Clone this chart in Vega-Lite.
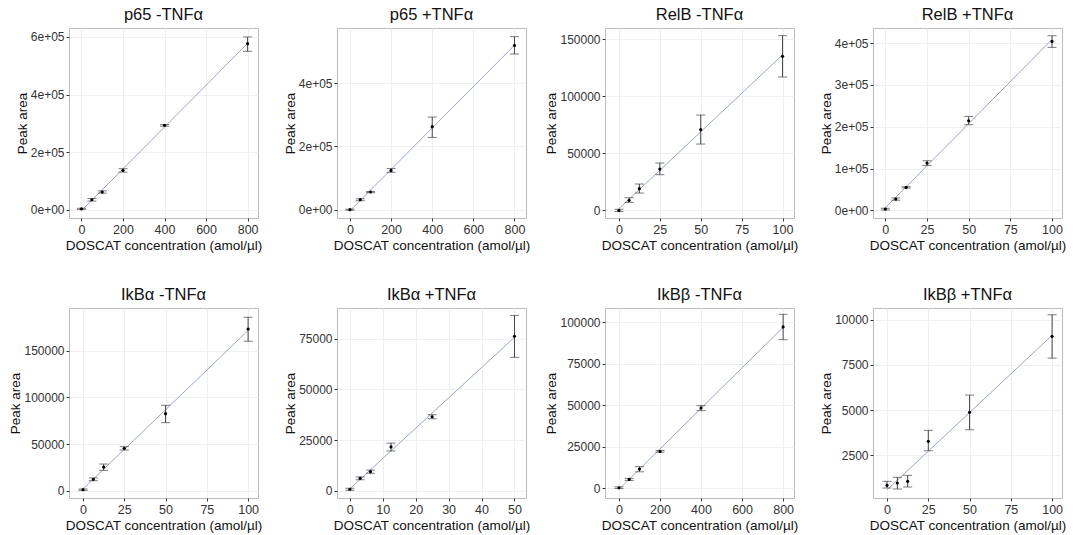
{
  "$schema": "https://vega.github.io/schema/vega-lite/v6.json",
  "background": "white",
  "padding": {"left": 8, "top": 6, "right": 2, "bottom": 5},
  "columns": 4,
  "bounds": "flush",
  "spacing": {"row": 90, "column": 79},
  "data": {"values": [
    {"p": 1, "x": 0, "y": 3000, "lo": 1000, "hi": 5000},
    {"p": 1, "x": 50, "y": 34700, "lo": 30000, "hi": 39000},
    {"p": 1, "x": 100, "y": 61400, "lo": 57500, "hi": 65500},
    {"p": 1, "x": 200, "y": 136600, "lo": 130500, "hi": 142500},
    {"p": 1, "x": 400, "y": 293000, "lo": 290000, "hi": 296000},
    {"p": 1, "x": 800, "y": 576700, "lo": 550000, "hi": 600000},
    {"p": 2, "x": 0, "y": 0, "lo": -1500, "hi": 1500},
    {"p": 2, "x": 50, "y": 31600, "lo": 28500, "hi": 34500},
    {"p": 2, "x": 100, "y": 55800, "lo": 54000, "hi": 57600},
    {"p": 2, "x": 200, "y": 124100, "lo": 118000, "hi": 130000},
    {"p": 2, "x": 400, "y": 262100, "lo": 228200, "hi": 292600},
    {"p": 2, "x": 800, "y": 518800, "lo": 491600, "hi": 546300},
    {"p": 3, "x": 0, "y": 0, "lo": -1000, "hi": 1000},
    {"p": 3, "x": 6.25, "y": 8760, "lo": 7000, "hi": 11100},
    {"p": 3, "x": 12.5, "y": 19000, "lo": 15200, "hi": 23100},
    {"p": 3, "x": 25, "y": 36200, "lo": 31250, "hi": 41500},
    {"p": 3, "x": 50, "y": 70700, "lo": 58100, "hi": 83500},
    {"p": 3, "x": 100, "y": 134900, "lo": 116800, "hi": 153000},
    {"p": 4, "x": 0, "y": 3300, "lo": 1300, "hi": 5300},
    {"p": 4, "x": 6.25, "y": 27200, "lo": 24500, "hi": 30000},
    {"p": 4, "x": 12.5, "y": 55000, "lo": 53500, "hi": 56500},
    {"p": 4, "x": 25, "y": 113300, "lo": 107600, "hi": 118800},
    {"p": 4, "x": 50, "y": 214400, "lo": 204900, "hi": 224700},
    {"p": 4, "x": 100, "y": 404000, "lo": 389700, "hi": 417600},
    {"p": 5, "x": 0, "y": 1100, "lo": 400, "hi": 1800},
    {"p": 5, "x": 6.25, "y": 12200, "lo": 10700, "hi": 13700},
    {"p": 5, "x": 12.5, "y": 25400, "lo": 21800, "hi": 28600},
    {"p": 5, "x": 25, "y": 45400, "lo": 43600, "hi": 47200},
    {"p": 5, "x": 50, "y": 82500, "lo": 72900, "hi": 91500},
    {"p": 5, "x": 100, "y": 173200, "lo": 160100, "hi": 185800},
    {"p": 6, "x": 0, "y": 700, "lo": 200, "hi": 1200},
    {"p": 6, "x": 3.125, "y": 6100, "lo": 5400, "hi": 6800},
    {"p": 6, "x": 6.25, "y": 9400, "lo": 8600, "hi": 10200},
    {"p": 6, "x": 12.5, "y": 21600, "lo": 19600, "hi": 23500},
    {"p": 6, "x": 25, "y": 36500, "lo": 35500, "hi": 37500},
    {"p": 6, "x": 50, "y": 76200, "lo": 65800, "hi": 86500},
    {"p": 7, "x": 0, "y": 200, "lo": -300, "hi": 700},
    {"p": 7, "x": 50, "y": 5200, "lo": 4600, "hi": 5800},
    {"p": 7, "x": 100, "y": 11500, "lo": 9800, "hi": 12900},
    {"p": 7, "x": 200, "y": 22100, "lo": 21600, "hi": 22600},
    {"p": 7, "x": 400, "y": 48300, "lo": 46700, "hi": 49700},
    {"p": 7, "x": 800, "y": 97200, "lo": 89500, "hi": 104800},
    {"p": 8, "x": 0, "y": 842, "lo": 692, "hi": 1063},
    {"p": 8, "x": 6.25, "y": 969, "lo": 637, "hi": 1284},
    {"p": 8, "x": 12.5, "y": 1063, "lo": 748, "hi": 1394},
    {"p": 8, "x": 25, "y": 3274, "lo": 2754, "hi": 3882},
    {"p": 8, "x": 50, "y": 4877, "lo": 3915, "hi": 5833},
    {"p": 8, "x": 100, "y": 9082, "lo": 7878, "hi": 10276}
  ]},
  "concat": [
    {
      "title": "p65 -TNFα", "width": 189, "height": 190,
      "transform": [{"filter": "datum.p == 1"}],
      "encoding": {"x": {"field": "x", "type": "quantitative", "title": "DOSCAT concentration (amol/µl)", "scale": {"domain": [-60, 850], "nice": false, "zero": false}, "axis": {"values": [0, 200, 400, 600, 800]}}},
      "layer": [
        {"transform": [{"regression": "y", "on": "x"}], "mark": {"type": "line", "color": "#98a6c9", "strokeWidth": 1}, "encoding": {"y": {"field": "y", "type": "quantitative", "title": "Peak area", "scale": {"domain": [-28800, 631000], "nice": false, "zero": false}, "axis": {"values": [0, 200000, 400000, 600000], "labelExpr": "datum.value == 0 ? '0e+00' : format(datum.value/100000, 'd') + 'e+05'"}}}},
        {"mark": {"type": "rule", "color": "#444"}, "encoding": {"y": {"field": "lo", "type": "quantitative", "title": "Peak area", "scale": {"domain": [-28800, 631000], "nice": false, "zero": false}, "axis": {"values": [0, 200000, 400000, 600000], "labelExpr": "datum.value == 0 ? '0e+00' : format(datum.value/100000, 'd') + 'e+05'"}}, "y2": {"field": "hi"}}},
        {"mark": {"type": "tick", "orient": "horizontal", "size": 9, "thickness": 1, "color": "#444"}, "encoding": {"y": {"field": "lo", "type": "quantitative", "title": "Peak area", "scale": {"domain": [-28800, 631000], "nice": false, "zero": false}, "axis": {"values": [0, 200000, 400000, 600000], "labelExpr": "datum.value == 0 ? '0e+00' : format(datum.value/100000, 'd') + 'e+05'"}}}},
        {"mark": {"type": "tick", "orient": "horizontal", "size": 9, "thickness": 1, "color": "#444"}, "encoding": {"y": {"field": "hi", "type": "quantitative", "title": "Peak area", "scale": {"domain": [-28800, 631000], "nice": false, "zero": false}, "axis": {"values": [0, 200000, 400000, 600000], "labelExpr": "datum.value == 0 ? '0e+00' : format(datum.value/100000, 'd') + 'e+05'"}}}},
        {"mark": {"type": "circle", "size": 10, "color": "black", "opacity": 1}, "encoding": {"y": {"field": "y", "type": "quantitative", "title": "Peak area", "scale": {"domain": [-28800, 631000], "nice": false, "zero": false}, "axis": {"values": [0, 200000, 400000, 600000], "labelExpr": "datum.value == 0 ? '0e+00' : format(datum.value/100000, 'd') + 'e+05'"}}}},
        {"data": {"values": [{"p": 1, "t": "r2 = 0.99"}]}, "mark": {"type": "text", "align": "left", "baseline": "middle", "fontSize": 9.5, "color": "#111"}, "encoding": {"x": {"datum": -8, "type": "quantitative", "title": "DOSCAT concentration (amol/µl)"}, "y": {"datum": 552000, "type": "quantitative", "title": "Peak area"}, "text": {"field": "t"}}}
      ]
    },
    {
      "title": "p65 +TNFα", "width": 189, "height": 190,
      "transform": [{"filter": "datum.p == 2"}],
      "encoding": {"x": {"field": "x", "type": "quantitative", "title": "DOSCAT concentration (amol/µl)", "scale": {"domain": [-63, 856], "nice": false, "zero": false}, "axis": {"values": [0, 200, 400, 600, 800]}}},
      "layer": [
        {"transform": [{"regression": "y", "on": "x"}], "mark": {"type": "line", "color": "#98a6c9", "strokeWidth": 1}, "encoding": {"y": {"field": "y", "type": "quantitative", "title": "Peak area", "scale": {"domain": [-26200, 573700], "nice": false, "zero": false}, "axis": {"values": [0, 200000, 400000], "labelExpr": "datum.value == 0 ? '0e+00' : format(datum.value/100000, 'd') + 'e+05'"}}}},
        {"mark": {"type": "rule", "color": "#444"}, "encoding": {"y": {"field": "lo", "type": "quantitative", "title": "Peak area", "scale": {"domain": [-26200, 573700], "nice": false, "zero": false}, "axis": {"values": [0, 200000, 400000], "labelExpr": "datum.value == 0 ? '0e+00' : format(datum.value/100000, 'd') + 'e+05'"}}, "y2": {"field": "hi"}}},
        {"mark": {"type": "tick", "orient": "horizontal", "size": 9, "thickness": 1, "color": "#444"}, "encoding": {"y": {"field": "lo", "type": "quantitative", "title": "Peak area", "scale": {"domain": [-26200, 573700], "nice": false, "zero": false}, "axis": {"values": [0, 200000, 400000], "labelExpr": "datum.value == 0 ? '0e+00' : format(datum.value/100000, 'd') + 'e+05'"}}}},
        {"mark": {"type": "tick", "orient": "horizontal", "size": 9, "thickness": 1, "color": "#444"}, "encoding": {"y": {"field": "hi", "type": "quantitative", "title": "Peak area", "scale": {"domain": [-26200, 573700], "nice": false, "zero": false}, "axis": {"values": [0, 200000, 400000], "labelExpr": "datum.value == 0 ? '0e+00' : format(datum.value/100000, 'd') + 'e+05'"}}}},
        {"mark": {"type": "circle", "size": 10, "color": "black", "opacity": 1}, "encoding": {"y": {"field": "y", "type": "quantitative", "title": "Peak area", "scale": {"domain": [-26200, 573700], "nice": false, "zero": false}, "axis": {"values": [0, 200000, 400000], "labelExpr": "datum.value == 0 ? '0e+00' : format(datum.value/100000, 'd') + 'e+05'"}}}},
        {"data": {"values": [{"p": 2, "t": "r2 = 0.99"}]}, "mark": {"type": "text", "align": "left", "baseline": "middle", "fontSize": 9.5, "color": "#111"}, "encoding": {"x": {"datum": -8, "type": "quantitative", "title": "DOSCAT concentration (amol/µl)"}, "y": {"datum": 503000, "type": "quantitative", "title": "Peak area"}, "text": {"field": "t"}}}
      ]
    },
    {
      "title": "RelB -TNFα", "width": 189, "height": 190,
      "transform": [{"filter": "datum.p == 3"}],
      "encoding": {"x": {"field": "x", "type": "quantitative", "title": "DOSCAT concentration (amol/µl)", "scale": {"domain": [-8.5, 107], "nice": false, "zero": false}, "axis": {"values": [0, 25, 50, 75, 100]}}},
      "layer": [
        {"transform": [{"regression": "y", "on": "x"}], "mark": {"type": "line", "color": "#98a6c9", "strokeWidth": 1}, "encoding": {"y": {"field": "y", "type": "quantitative", "title": "Peak area", "scale": {"domain": [-6650, 159700], "nice": false, "zero": false}, "axis": {"values": [0, 50000, 100000, 150000], "format": "d"}}}},
        {"mark": {"type": "rule", "color": "#444"}, "encoding": {"y": {"field": "lo", "type": "quantitative", "title": "Peak area", "scale": {"domain": [-6650, 159700], "nice": false, "zero": false}, "axis": {"values": [0, 50000, 100000, 150000], "format": "d"}}, "y2": {"field": "hi"}}},
        {"mark": {"type": "tick", "orient": "horizontal", "size": 9, "thickness": 1, "color": "#444"}, "encoding": {"y": {"field": "lo", "type": "quantitative", "title": "Peak area", "scale": {"domain": [-6650, 159700], "nice": false, "zero": false}, "axis": {"values": [0, 50000, 100000, 150000], "format": "d"}}}},
        {"mark": {"type": "tick", "orient": "horizontal", "size": 9, "thickness": 1, "color": "#444"}, "encoding": {"y": {"field": "hi", "type": "quantitative", "title": "Peak area", "scale": {"domain": [-6650, 159700], "nice": false, "zero": false}, "axis": {"values": [0, 50000, 100000, 150000], "format": "d"}}}},
        {"mark": {"type": "circle", "size": 10, "color": "black", "opacity": 1}, "encoding": {"y": {"field": "y", "type": "quantitative", "title": "Peak area", "scale": {"domain": [-6650, 159700], "nice": false, "zero": false}, "axis": {"values": [0, 50000, 100000, 150000], "format": "d"}}}},
        {"data": {"values": [{"p": 3, "t": "r2 = 0.99"}]}, "mark": {"type": "text", "align": "left", "baseline": "middle", "fontSize": 9.5, "color": "#111"}, "encoding": {"x": {"datum": -0.4, "type": "quantitative", "title": "DOSCAT concentration (amol/µl)"}, "y": {"datum": 140300, "type": "quantitative", "title": "Peak area"}, "text": {"field": "t"}}}
      ]
    },
    {
      "title": "RelB +TNFα", "width": 189, "height": 190,
      "transform": [{"filter": "datum.p == 4"}],
      "encoding": {"x": {"field": "x", "type": "quantitative", "title": "DOSCAT concentration (amol/µl)", "scale": {"domain": [-7.4, 106], "nice": false, "zero": false}, "axis": {"values": [0, 25, 50, 75, 100]}}},
      "layer": [
        {"transform": [{"regression": "y", "on": "x"}], "mark": {"type": "line", "color": "#98a6c9", "strokeWidth": 1}, "encoding": {"y": {"field": "y", "type": "quantitative", "title": "Peak area", "scale": {"domain": [-18000, 436000], "nice": false, "zero": false}, "axis": {"values": [0, 100000, 200000, 300000, 400000], "labelExpr": "datum.value == 0 ? '0e+00' : format(datum.value/100000, 'd') + 'e+05'"}}}},
        {"mark": {"type": "rule", "color": "#444"}, "encoding": {"y": {"field": "lo", "type": "quantitative", "title": "Peak area", "scale": {"domain": [-18000, 436000], "nice": false, "zero": false}, "axis": {"values": [0, 100000, 200000, 300000, 400000], "labelExpr": "datum.value == 0 ? '0e+00' : format(datum.value/100000, 'd') + 'e+05'"}}, "y2": {"field": "hi"}}},
        {"mark": {"type": "tick", "orient": "horizontal", "size": 9, "thickness": 1, "color": "#444"}, "encoding": {"y": {"field": "lo", "type": "quantitative", "title": "Peak area", "scale": {"domain": [-18000, 436000], "nice": false, "zero": false}, "axis": {"values": [0, 100000, 200000, 300000, 400000], "labelExpr": "datum.value == 0 ? '0e+00' : format(datum.value/100000, 'd') + 'e+05'"}}}},
        {"mark": {"type": "tick", "orient": "horizontal", "size": 9, "thickness": 1, "color": "#444"}, "encoding": {"y": {"field": "hi", "type": "quantitative", "title": "Peak area", "scale": {"domain": [-18000, 436000], "nice": false, "zero": false}, "axis": {"values": [0, 100000, 200000, 300000, 400000], "labelExpr": "datum.value == 0 ? '0e+00' : format(datum.value/100000, 'd') + 'e+05'"}}}},
        {"mark": {"type": "circle", "size": 10, "color": "black", "opacity": 1}, "encoding": {"y": {"field": "y", "type": "quantitative", "title": "Peak area", "scale": {"domain": [-18000, 436000], "nice": false, "zero": false}, "axis": {"values": [0, 100000, 200000, 300000, 400000], "labelExpr": "datum.value == 0 ? '0e+00' : format(datum.value/100000, 'd') + 'e+05'"}}}},
        {"data": {"values": [{"p": 4, "t": "r2 = 0.99"}]}, "mark": {"type": "text", "align": "left", "baseline": "middle", "fontSize": 9.5, "color": "#111"}, "encoding": {"x": {"datum": -2, "type": "quantitative", "title": "DOSCAT concentration (amol/µl)"}, "y": {"datum": 382500, "type": "quantitative", "title": "Peak area"}, "text": {"field": "t"}}}
      ]
    },
    {
      "title": "IkBα -TNFα", "width": 189, "height": 190,
      "transform": [{"filter": "datum.p == 5"}],
      "encoding": {"x": {"field": "x", "type": "quantitative", "title": "DOSCAT concentration (amol/µl)", "scale": {"domain": [-8.5, 106], "nice": false, "zero": false}, "axis": {"values": [0, 25, 50, 75, 100]}}},
      "layer": [
        {"transform": [{"regression": "y", "on": "x"}], "mark": {"type": "line", "color": "#98a6c9", "strokeWidth": 1}, "encoding": {"y": {"field": "y", "type": "quantitative", "title": "Peak area", "scale": {"domain": [-7800, 195700], "nice": false, "zero": false}, "axis": {"values": [0, 50000, 100000, 150000], "format": "d"}}}},
        {"mark": {"type": "rule", "color": "#444"}, "encoding": {"y": {"field": "lo", "type": "quantitative", "title": "Peak area", "scale": {"domain": [-7800, 195700], "nice": false, "zero": false}, "axis": {"values": [0, 50000, 100000, 150000], "format": "d"}}, "y2": {"field": "hi"}}},
        {"mark": {"type": "tick", "orient": "horizontal", "size": 9, "thickness": 1, "color": "#444"}, "encoding": {"y": {"field": "lo", "type": "quantitative", "title": "Peak area", "scale": {"domain": [-7800, 195700], "nice": false, "zero": false}, "axis": {"values": [0, 50000, 100000, 150000], "format": "d"}}}},
        {"mark": {"type": "tick", "orient": "horizontal", "size": 9, "thickness": 1, "color": "#444"}, "encoding": {"y": {"field": "hi", "type": "quantitative", "title": "Peak area", "scale": {"domain": [-7800, 195700], "nice": false, "zero": false}, "axis": {"values": [0, 50000, 100000, 150000], "format": "d"}}}},
        {"mark": {"type": "circle", "size": 10, "color": "black", "opacity": 1}, "encoding": {"y": {"field": "y", "type": "quantitative", "title": "Peak area", "scale": {"domain": [-7800, 195700], "nice": false, "zero": false}, "axis": {"values": [0, 50000, 100000, 150000], "format": "d"}}}},
        {"data": {"values": [{"p": 5, "t": "r2 = 0.99"}]}, "mark": {"type": "text", "align": "left", "baseline": "middle", "fontSize": 9.5, "color": "#111"}, "encoding": {"x": {"datum": -2, "type": "quantitative", "title": "DOSCAT concentration (amol/µl)"}, "y": {"datum": 171900, "type": "quantitative", "title": "Peak area"}, "text": {"field": "t"}}}
      ]
    },
    {
      "title": "IkBα +TNFα", "width": 189, "height": 190,
      "transform": [{"filter": "datum.p == 6"}],
      "encoding": {"x": {"field": "x", "type": "quantitative", "title": "DOSCAT concentration (amol/µl)", "scale": {"domain": [-3.9, 53.5], "nice": false, "zero": false}, "axis": {"values": [0, 10, 20, 30, 40, 50]}}},
      "layer": [
        {"transform": [{"regression": "y", "on": "x"}], "mark": {"type": "line", "color": "#98a6c9", "strokeWidth": 1}, "encoding": {"y": {"field": "y", "type": "quantitative", "title": "Peak area", "scale": {"domain": [-3600, 90150], "nice": false, "zero": false}, "axis": {"values": [0, 25000, 50000, 75000], "format": "d"}}}},
        {"mark": {"type": "rule", "color": "#444"}, "encoding": {"y": {"field": "lo", "type": "quantitative", "title": "Peak area", "scale": {"domain": [-3600, 90150], "nice": false, "zero": false}, "axis": {"values": [0, 25000, 50000, 75000], "format": "d"}}, "y2": {"field": "hi"}}},
        {"mark": {"type": "tick", "orient": "horizontal", "size": 9, "thickness": 1, "color": "#444"}, "encoding": {"y": {"field": "lo", "type": "quantitative", "title": "Peak area", "scale": {"domain": [-3600, 90150], "nice": false, "zero": false}, "axis": {"values": [0, 25000, 50000, 75000], "format": "d"}}}},
        {"mark": {"type": "tick", "orient": "horizontal", "size": 9, "thickness": 1, "color": "#444"}, "encoding": {"y": {"field": "hi", "type": "quantitative", "title": "Peak area", "scale": {"domain": [-3600, 90150], "nice": false, "zero": false}, "axis": {"values": [0, 25000, 50000, 75000], "format": "d"}}}},
        {"mark": {"type": "circle", "size": 10, "color": "black", "opacity": 1}, "encoding": {"y": {"field": "y", "type": "quantitative", "title": "Peak area", "scale": {"domain": [-3600, 90150], "nice": false, "zero": false}, "axis": {"values": [0, 25000, 50000, 75000], "format": "d"}}}},
        {"data": {"values": [{"p": 6, "t": "r2 = 0.99"}]}, "mark": {"type": "text", "align": "left", "baseline": "middle", "fontSize": 9.5, "color": "#111"}, "encoding": {"x": {"datum": -0.5, "type": "quantitative", "title": "DOSCAT concentration (amol/µl)"}, "y": {"datum": 79100, "type": "quantitative", "title": "Peak area"}, "text": {"field": "t"}}}
      ]
    },
    {
      "title": "IkBβ -TNFα", "width": 189, "height": 190,
      "transform": [{"filter": "datum.p == 7"}],
      "encoding": {"x": {"field": "x", "type": "quantitative", "title": "DOSCAT concentration (amol/µl)", "scale": {"domain": [-68, 853], "nice": false, "zero": false}, "axis": {"values": [0, 200, 400, 600, 800]}}},
      "layer": [
        {"transform": [{"regression": "y", "on": "x"}], "mark": {"type": "line", "color": "#98a6c9", "strokeWidth": 1}, "encoding": {"y": {"field": "y", "type": "quantitative", "title": "Peak area", "scale": {"domain": [-6000, 108600], "nice": false, "zero": false}, "axis": {"values": [0, 25000, 50000, 75000, 100000], "format": "d"}}}},
        {"mark": {"type": "rule", "color": "#444"}, "encoding": {"y": {"field": "lo", "type": "quantitative", "title": "Peak area", "scale": {"domain": [-6000, 108600], "nice": false, "zero": false}, "axis": {"values": [0, 25000, 50000, 75000, 100000], "format": "d"}}, "y2": {"field": "hi"}}},
        {"mark": {"type": "tick", "orient": "horizontal", "size": 9, "thickness": 1, "color": "#444"}, "encoding": {"y": {"field": "lo", "type": "quantitative", "title": "Peak area", "scale": {"domain": [-6000, 108600], "nice": false, "zero": false}, "axis": {"values": [0, 25000, 50000, 75000, 100000], "format": "d"}}}},
        {"mark": {"type": "tick", "orient": "horizontal", "size": 9, "thickness": 1, "color": "#444"}, "encoding": {"y": {"field": "hi", "type": "quantitative", "title": "Peak area", "scale": {"domain": [-6000, 108600], "nice": false, "zero": false}, "axis": {"values": [0, 25000, 50000, 75000, 100000], "format": "d"}}}},
        {"mark": {"type": "circle", "size": 10, "color": "black", "opacity": 1}, "encoding": {"y": {"field": "y", "type": "quantitative", "title": "Peak area", "scale": {"domain": [-6000, 108600], "nice": false, "zero": false}, "axis": {"values": [0, 25000, 50000, 75000, 100000], "format": "d"}}}},
        {"data": {"values": [{"p": 7, "t": "r2 = 0.99"}]}, "mark": {"type": "text", "align": "left", "baseline": "middle", "fontSize": 9.5, "color": "#111"}, "encoding": {"x": {"datum": -3, "type": "quantitative", "title": "DOSCAT concentration (amol/µl)"}, "y": {"datum": 95200, "type": "quantitative", "title": "Peak area"}, "text": {"field": "t"}}}
      ]
    },
    {
      "title": "IkBβ +TNFα", "width": 189, "height": 190,
      "transform": [{"filter": "datum.p == 8"}],
      "encoding": {"x": {"field": "x", "type": "quantitative", "title": "DOSCAT concentration (amol/µl)", "scale": {"domain": [-8.5, 106], "nice": false, "zero": false}, "axis": {"values": [0, 25, 50, 75, 100]}}},
      "layer": [
        {"transform": [{"regression": "y", "on": "x"}], "mark": {"type": "line", "color": "#98a6c9", "strokeWidth": 1}, "encoding": {"y": {"field": "y", "type": "quantitative", "title": "Peak area", "scale": {"domain": [140, 10650], "nice": false, "zero": false}, "axis": {"values": [2500, 5000, 7500, 10000], "format": "d"}}}},
        {"mark": {"type": "rule", "color": "#444"}, "encoding": {"y": {"field": "lo", "type": "quantitative", "title": "Peak area", "scale": {"domain": [140, 10650], "nice": false, "zero": false}, "axis": {"values": [2500, 5000, 7500, 10000], "format": "d"}}, "y2": {"field": "hi"}}},
        {"mark": {"type": "tick", "orient": "horizontal", "size": 9, "thickness": 1, "color": "#444"}, "encoding": {"y": {"field": "lo", "type": "quantitative", "title": "Peak area", "scale": {"domain": [140, 10650], "nice": false, "zero": false}, "axis": {"values": [2500, 5000, 7500, 10000], "format": "d"}}}},
        {"mark": {"type": "tick", "orient": "horizontal", "size": 9, "thickness": 1, "color": "#444"}, "encoding": {"y": {"field": "hi", "type": "quantitative", "title": "Peak area", "scale": {"domain": [140, 10650], "nice": false, "zero": false}, "axis": {"values": [2500, 5000, 7500, 10000], "format": "d"}}}},
        {"mark": {"type": "circle", "size": 10, "color": "black", "opacity": 1}, "encoding": {"y": {"field": "y", "type": "quantitative", "title": "Peak area", "scale": {"domain": [140, 10650], "nice": false, "zero": false}, "axis": {"values": [2500, 5000, 7500, 10000], "format": "d"}}}},
        {"data": {"values": [{"p": 8, "t": "r2 = 0.98"}]}, "mark": {"type": "text", "align": "left", "baseline": "middle", "fontSize": 9.5, "color": "#111"}, "encoding": {"x": {"datum": -2.4, "type": "quantitative", "title": "DOSCAT concentration (amol/µl)"}, "y": {"datum": 9359, "type": "quantitative", "title": "Peak area"}, "text": {"field": "t"}}}
      ]
    }
  ],
  "config": {
    "font": "Liberation Sans",
    "view": {"stroke": "#bbbbbb", "strokeWidth": 1},
    "axis": {"domain": false, "tickColor": "#333333", "tickSize": 3, "labelColor": "#333333", "labelPadding": 2, "titleFontSize": 13.5, "titleFontWeight": "normal", "titleColor": "#111111", "gridColor": "#efefef"},
    "axisX": {"labelFontSize": 12.5, "titlePadding": 3},
    "axisY": {"labelFontSize": 12, "titlePadding": 1},
    "title": {"fontSize": 16.5, "fontWeight": "normal", "offset": 5, "color": "#111111", "frame": "group", "anchor": "middle"}
  }
}
